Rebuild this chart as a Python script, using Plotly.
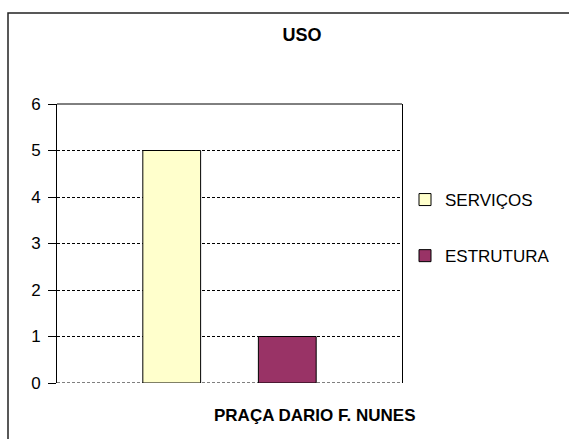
import plotly.graph_objects as go

# Data
categories = ["PRAÇA DARIO F. NUNES"]
series_names = ["SERVIÇOS", "ESTRUTURA"]
series_values = [[5], [1]]
series_colors = ["#FFFFCC", "#993366"]
y_ticks = [0, 1, 2, 3, 4, 5, 6]
chart_title = "USO"

W, H = 569, 439
# plot-area box in pixels
L, R, T, B = 57, 402, 104, 383

FONT = "Liberation Sans, Arial, sans-serif"

fig = go.Figure()
for i, (name, vals, col) in enumerate(zip(series_names, series_values, series_colors)):
    fig.add_trace(go.Bar(
        x=categories, y=vals, name=name,
        marker=dict(color=col, line=dict(color="#000000", width=1)),
        legendgroup=f"g{i}",
    ))

pw, ph = R - L, B - T


def px_x(x):
    return (x - L) / pw


def px_y(y):
    return (B - y) / ph


fig.update_layout(
    width=W, height=H,
    margin=dict(l=L, r=W - R, t=T, b=H - B),
    paper_bgcolor="white", plot_bgcolor="white",
    font=dict(family=FONT, color="#000000", size=16),
    barmode="group", bargap=0.33, bargroupgap=0.5,
    showlegend=True,
    legend=dict(
        x=px_x(405), xanchor="left", y=px_y(182), yanchor="top",
        font=dict(size=17, family=FONT),
        traceorder="grouped", tracegroupgap=31,
        bgcolor="rgba(0,0,0,0)", itemclick=False,
    ),
    title=dict(
        text=f"<b>{chart_title}</b>", x=302 / W, xref="container", xanchor="center",
        y=1 - 35 / H, yref="container", yanchor="middle",
        font=dict(size=18, family=FONT),
    ),
    xaxis=dict(
        showticklabels=False, ticks="", showgrid=False, zeroline=False,
        showline=False,
    ),
    yaxis=dict(
        range=[0, 6], tickvals=y_ticks, ticks="outside", ticklen=8,
        tickcolor="#000000", tickfont=dict(size=17, family=FONT),
        ticklabelstandoff=4,
        showgrid=True, gridcolor="#000000", gridwidth=1, griddash="3px,2px",
        zeroline=False, showline=True, linecolor="#000000", linewidth=1,
        mirror=True,
    ),
    annotations=[dict(
        text=f"<b>{categories[0]}</b>", xref="paper", yref="paper",
        x=px_x(314.5), y=px_y(416), xanchor="center", yanchor="middle",
        showarrow=False, font=dict(size=17, family=FONT),
    )],
    shapes=[
        # top edge of plot area
        dict(type="line", xref="paper", yref="paper", x0=0, x1=1, y0=1, y1=1,
             line=dict(color="#000000", width=1)),
        # dashed baseline at zero
        dict(type="line", xref="paper", yref="y", x0=0, x1=1, y0=0, y1=0,
             line=dict(color="#000000", width=1, dash="3px,2px"), layer="below"),
        # chart-area frame
        dict(type="rect", xref="paper", yref="paper",
             x0=px_x(8), x1=px_x(W + 20), y0=px_y(13), y1=px_y(H + 20),
             line=dict(color="#222222", width=1.5), layer="below"),
    ],
)

fig.write_html("out.html")
